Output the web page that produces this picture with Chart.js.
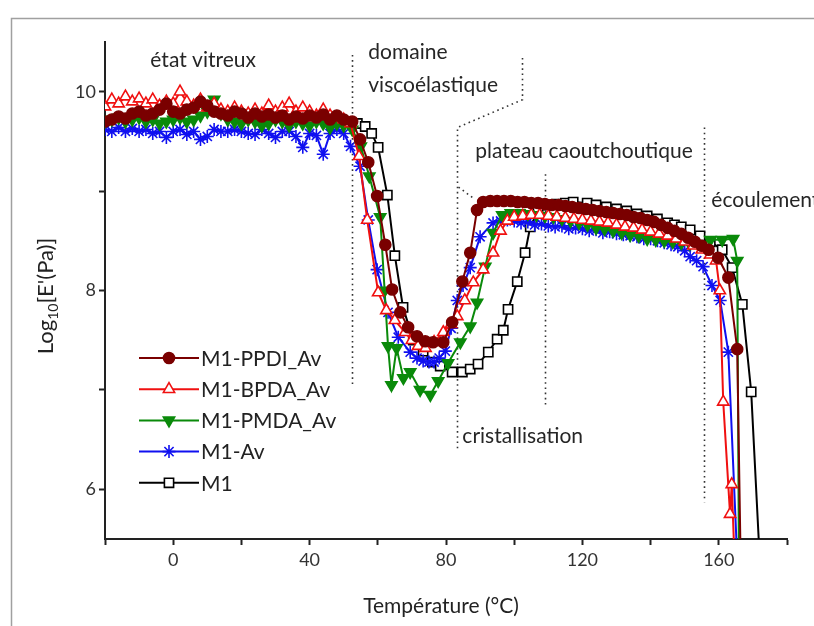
<!DOCTYPE html>
<html lang="fr">
<head>
<meta charset="UTF-8">
<title>Log E' vs Température</title>
<script src="https://cdn.jsdelivr.net/npm/chart.js"></script>
<style>
  body { margin: 0; background: #fff; }
  #wrap { width: 814px; height: 626px; }
</style>
</head>
<body>
<div id="wrap"><canvas id="dma" width="814" height="626"></canvas></div>
<script>
// --- data (temperature in °C, log10 E' in Pa) ---
const seriesNames = ['M1-PPDI_Av', 'M1-BPDA_Av', 'M1-PMDA_Av', 'M1-Av', 'M1'];

const ppdiT = [-20,-18,-16,-14,-12,-10,-8,-6,-4,-2,0,2,4,6,8,10,12,14,16,18,20,22,24,26,28,30,32,34,36,38,40,42,44,46,48,50,
  52.5,54.8,57.2,59.8,62.2,64.2,66.6,68.9,71.5,73.9,76.2,79.2,81.8,84.8,87.1,89.1,90.9,
  93,95,97,99,101,103,105,107,109,111,113,115,117,119,121,123,125,127,129,131,133,135,137,139,141,143,145,147,149,151,153,155,157,
  159.8,162.8,165.4,166.4];
const ppdiV = [9.70,9.72,9.75,9.73,9.78,9.80,9.76,9.78,9.82,9.88,9.80,9.78,9.82,9.84,9.90,9.86,9.80,9.78,9.76,9.80,
  9.78,9.74,9.78,9.75,9.77,9.74,9.76,9.72,9.75,9.73,9.76,9.74,9.77,9.72,9.76,9.72,
  9.70,9.52,9.29,8.95,8.46,8.01,7.78,7.63,7.54,7.49,7.48,7.48,7.68,8.09,8.38,8.81,8.89,
  8.90,8.90,8.90,8.90,8.89,8.89,8.88,8.88,8.87,8.86,8.86,8.85,8.84,8.83,8.82,8.81,8.80,8.79,8.78,8.77,
  8.76,8.74,8.73,8.71,8.69,8.66,8.63,8.60,8.57,8.53,8.49,8.45,8.41,
  8.33,8.13,7.41,5.3];

const bpdaT = [-20,-18,-16,-14,-12,-10,-8,-6,-4,-2,0,2,4,6,8,10,12,14,16,18,20,22,24,26,28,30,32,34,36,38,40,42,44,46,48,50,
  52,54.5,56.9,60.1,62.5,65,68,70,71.8,74,76.5,79.2,81.5,83.3,85.5,88,90.9,93.8,96,98,100,
  102.5,105,107.5,110,112.5,115,117.5,120,122.5,125,127.5,130,132.5,135,137.5,140,142.5,145,147.5,150,152.5,155,157.5,
  159.2,160.3,161.3,163.3,163.8,164.6];
const bpdaV = [9.85,9.92,9.88,9.95,9.90,9.93,9.88,9.92,9.86,9.90,9.88,10.00,9.90,9.86,9.92,9.84,9.88,9.82,9.80,9.84,
  9.80,9.78,9.82,9.78,9.86,9.80,9.84,9.88,9.80,9.84,9.80,9.76,9.82,9.76,9.74,9.72,
  9.68,9.35,8.71,7.98,7.80,7.70,7.58,7.50,7.44,7.42,7.48,7.58,7.66,7.74,7.90,8.08,8.21,8.38,8.60,8.70,8.74,
  8.75,8.76,8.76,8.75,8.74,8.73,8.72,8.71,8.70,8.69,8.68,8.66,8.64,8.63,8.61,8.59,8.57,8.55,8.52,8.49,8.45,8.41,8.36,
  8.30,8.00,6.88,5.75,6.05,5.3];

const pmdaT = [-20,-18,-16,-14,-12,-10,-8,-6,-4,-2,0,2,4,6,8,10,12,14,16,18,20,22,24,26,28,30,32,34,36,38,40,42,44,46,48,50,
  52.5,55,57.5,60.7,62,63,64,65.5,67.5,69.5,72.4,75.4,77.7,80.6,84.2,87.1,89.1,91.5,93.8,96.5,
  99,101.5,104,106.5,109,111.5,114,116.5,119,121.5,124,126.5,129,131.5,134,136.5,139,141.5,144,146.5,149,151.5,154,
  157.5,161,164.2,165.4,165.9];
const pmdaV = [9.70,9.72,9.74,9.70,9.72,9.74,9.70,9.72,9.68,9.70,9.72,9.74,9.70,9.72,9.76,9.80,9.92,9.78,9.72,9.70,
  9.68,9.72,9.70,9.66,9.68,9.72,9.70,9.66,9.70,9.68,9.66,9.70,9.68,9.64,9.68,9.66,
  9.62,9.45,9.15,8.74,8.00,7.44,7.05,7.42,7.12,7.18,7.00,6.95,7.09,7.27,7.48,7.64,7.88,8.24,8.58,8.76,
  8.78,8.78,8.77,8.76,8.75,8.74,8.72,8.70,8.68,8.66,8.63,8.62,8.60,8.58,8.56,8.55,8.52,8.51,8.50,8.49,8.48,8.47,8.46,
  8.51,8.51,8.52,8.30,5.3];

const avT = [-20,-18,-16,-14,-12,-10,-8,-6,-4,-2,0,2,4,6,8,10,12,14,16,18,20,22,24,26,28,30,32,34,36,38,40,42,44,46,48,50,
  52,54.8,57.2,59.8,63,66,69.5,71.5,73.3,75,76.5,78,79.8,81.5,83.3,85,87.1,90,93.8,
  96,98,100,102,104,106,108,110,112,114,116,118,120,122,124,126,128,130,132,134,136,138,140,142,144,146,148,150,
  151.6,153.5,155.4,158,160.4,162.8,165.4];
const avV = [9.62,9.60,9.64,9.60,9.63,9.60,9.62,9.58,9.60,9.54,9.60,9.62,9.57,9.60,9.52,9.55,9.62,9.60,9.60,9.62,
  9.60,9.58,9.57,9.62,9.58,9.54,9.60,9.60,9.55,9.44,9.58,9.56,9.37,9.58,9.62,9.58,
  9.45,9.25,8.71,8.21,7.78,7.53,7.38,7.32,7.29,7.28,7.28,7.32,7.39,7.62,7.90,8.05,8.23,8.54,8.68,
  8.70,8.71,8.70,8.68,8.69,8.66,8.67,8.65,8.64,8.65,8.62,8.63,8.62,8.60,8.61,8.58,8.59,8.57,8.56,8.55,8.54,8.52,8.52,8.50,8.48,8.46,8.44,8.40,
  8.34,8.30,8.24,8.05,7.90,7.38,5.3];

const m1T = [54,56.3,58.2,60.1,62.8,65,67.4,70.4,73.3,76,78.3,81.8,84.8,87.1,89.4,92.4,95,96.8,98.2,100.9,
  103.2,104.7,107,110,112.5,115,117.3,121.4,124,127,130,133,136,139,142,145,147,149,151.6,154.5,
  157.5,161,163.9,166.9,169.5,172];
const m1V = [9.68,9.65,9.58,9.44,8.96,8.35,7.83,7.50,7.39,7.28,7.24,7.18,7.18,7.21,7.26,7.38,7.51,7.60,7.81,8.09,
  8.38,8.64,8.80,8.86,8.87,8.88,8.89,8.88,8.86,8.84,8.82,8.80,8.77,8.75,8.72,8.68,8.66,8.64,8.61,8.55,
  8.49,8.41,8.23,7.86,6.98,5.3];

const xTicks = [-20, 0, 20, 40, 60, 80, 100, 120, 140, 160, 180];
const xTickLabels = [0, 40, 80, 120, 160];
const yTicks = [6, 7, 8, 9, 10];
const yTickLabels = [6, 8, 10];

// region markers (data units)
const zoneLines = [
  [[52.5, 10.37], [52.5, 7.06]],
  [[102.3, 10.34], [102.3, 9.92], [83.3, 9.64], [83.3, 6.40]],
  [[83.6, 9.04], [88.2, 8.92]],
  [[109.1, 9.17], [109.1, 6.85]],
  [[155.7, 9.64], [155.7, 5.87]]
];
const zoneLabels = [
  ['état vitreux', -6.7, 10.32],
  ['domaine', 57.2, 10.40],
  ['viscoélastique', 57.2, 10.07],
  ['plateau caoutchoutique', 88.6, 9.40],
  ['écoulement', 157.8, 8.91],
  ['cristallisation', 84.8, 6.53]
];

const FONT = 'Lato, "Open Sans", sans-serif';
const pts = (T, V) => T.map((t, i) => ({ x: t, y: V[i] }));

const styles = [
  { color: '#7a0000', fill: '#7a0000', pointStyle: 'circle', radius: 5.5, rot: 0 },
  { color: '#f01010', fill: '#ffffff', pointStyle: 'triangle', radius: 6.5, rot: 0 },
  { color: '#0a8a0a', fill: '#0a8a0a', pointStyle: 'triangle', radius: 6.5, rot: 180 },
  { color: '#1010f0', fill: '#1010f0', pointStyle: 'star', radius: 6.5, rot: 0 },
  { color: '#000000', fill: '#ffffff', pointStyle: 'rect', radius: 6.5, rot: 0 }
];
const allData = [pts(ppdiT, ppdiV), pts(bpdaT, bpdaV), pts(pmdaT, pmdaV), pts(avT, avV), pts(m1T, m1V)];

const datasets = seriesNames.map((name, i) => ({
  label: name,
  data: allData[i],
  borderColor: styles[i].color,
  backgroundColor: styles[i].fill,
  borderWidth: 2,
  tension: 0,
  fill: false,
  pointStyle: styles[i].pointStyle,
  pointRadius: styles[i].radius,
  pointRotation: styles[i].rot,
  pointBackgroundColor: styles[i].fill,
  pointBorderColor: styles[i].color,
  pointBorderWidth: 1.6
}));

const decor = {
  id: 'decor',
  beforeDraw(chart) {
    const c = chart.ctx;
    c.save();
    c.fillStyle = '#fff';
    c.fillRect(0, 0, chart.width, chart.height);
    c.strokeStyle = '#a0a0a0';
    c.lineWidth = 1.5;
    c.strokeRect(11.5, 18.5, 900, 700);
    c.restore();
  },
  beforeDatasetsDraw(chart) {
    const c = chart.ctx, x = chart.scales.x, y = chart.scales.y;
    c.save();
    c.strokeStyle = '#333';
    c.lineWidth = 1.6;
    c.setLineDash([1.6, 3.6]);
    zoneLines.forEach(seg => {
      c.beginPath();
      seg.forEach(([t, v], i) => {
        const px = Math.round(x.getPixelForValue(t)) + 0.5, py = y.getPixelForValue(v);
        if (i) c.lineTo(px, py); else c.moveTo(px, py);
      });
      c.stroke();
    });
    c.setLineDash([]);
    c.fillStyle = '#262626';
    c.font = '21px ' + FONT;
    c.textBaseline = 'middle';
    zoneLabels.forEach(([txt, t, v]) => c.fillText(txt, x.getPixelForValue(t), y.getPixelForValue(v)));
    c.restore();
  },
  afterDraw(chart) {
    const c = chart.ctx, area = chart.chartArea;
    c.save();
    // legend
    const lx = area.left + 34, rowY = 358, rowH = 31.2;
    c.font = '21px ' + FONT;
    c.textBaseline = 'middle';
    chart.data.datasets.forEach((ds, i) => {
      const yy = rowY + i * rowH;
      c.strokeStyle = ds.borderColor;
      c.lineWidth = 2;
      c.beginPath();
      c.moveTo(lx, yy);
      c.lineTo(lx + 60, yy);
      c.stroke();
      c.fillStyle = ds.pointBackgroundColor;
      c.strokeStyle = ds.pointBorderColor;
      c.lineWidth = ds.pointBorderWidth;
      Chart.helpers.drawPoint(c, { pointStyle: ds.pointStyle, radius: ds.pointRadius, rotation: ds.pointRotation, borderWidth: ds.pointBorderWidth }, lx + 30, yy);
      c.fillStyle = '#222';
      c.fillText(ds.label, lx + 62, yy + 1);
    });
    // x title
    c.textAlign = 'center';
    c.textBaseline = 'middle';
    c.fillText('Température (°C)', 441, 606);
    // y title with subscript
    c.translate(46, 296);
    c.rotate(-Math.PI / 2);
    const big = '22px ' + FONT, small = '14px ' + FONT;
    c.font = big; const w1 = c.measureText('Log').width; const w3 = c.measureText("[E'(Pa)]").width;
    c.font = small; const w2 = c.measureText('10').width;
    let sx = -(w1 + w2 + w3) / 2;
    c.textAlign = 'left';
    c.font = big; c.fillText('Log', sx, 0); sx += w1;
    c.font = small; c.fillText('10', sx, 7); sx += w2;
    c.font = big; c.fillText("[E'(Pa)]", sx, 0);
    c.restore();
  }
};

new Chart(document.getElementById('dma'), {
  type: 'line',
  data: { datasets },
  plugins: [decor],
  options: {
    responsive: false,
    animation: false,
    layout: { padding: { left: 0, right: 27, top: 42, bottom: 0 } },
    plugins: { legend: { display: false }, tooltip: { enabled: false } },
    scales: {
      x: {
        type: 'linear', min: -20, max: 180,
        afterFit: s => { s.height = 87; },
        afterBuildTicks: s => { s.ticks = xTicks.map(v => ({ value: v })); },
        border: { display: true, color: '#222', width: 2 },
        grid: { drawOnChartArea: false, drawTicks: true, tickLength: 6, tickColor: '#222', tickWidth: 2 },
        ticks: {
          autoSkip: false, maxRotation: 0, padding: 4, color: '#333',
          font: { family: FONT, size: 18 },
          callback: v => xTickLabels.includes(v) ? String(v) : ''
        }
      },
      y: {
        type: 'linear', min: 5.5, max: 10.5,
        afterFit: s => { s.width = 105; },
        afterBuildTicks: s => { s.ticks = yTicks.map(v => ({ value: v })); },
        border: { display: true, color: '#222', width: 2 },
        grid: { drawOnChartArea: false, drawTicks: true, tickLength: 6, tickColor: '#222', tickWidth: 2 },
        ticks: {
          autoSkip: false, padding: 3, color: '#333',
          font: { family: FONT, size: 18 },
          callback: v => yTickLabels.includes(v) ? String(v) : ''
        }
      }
    }
  }
});
</script>
</body>
</html>
